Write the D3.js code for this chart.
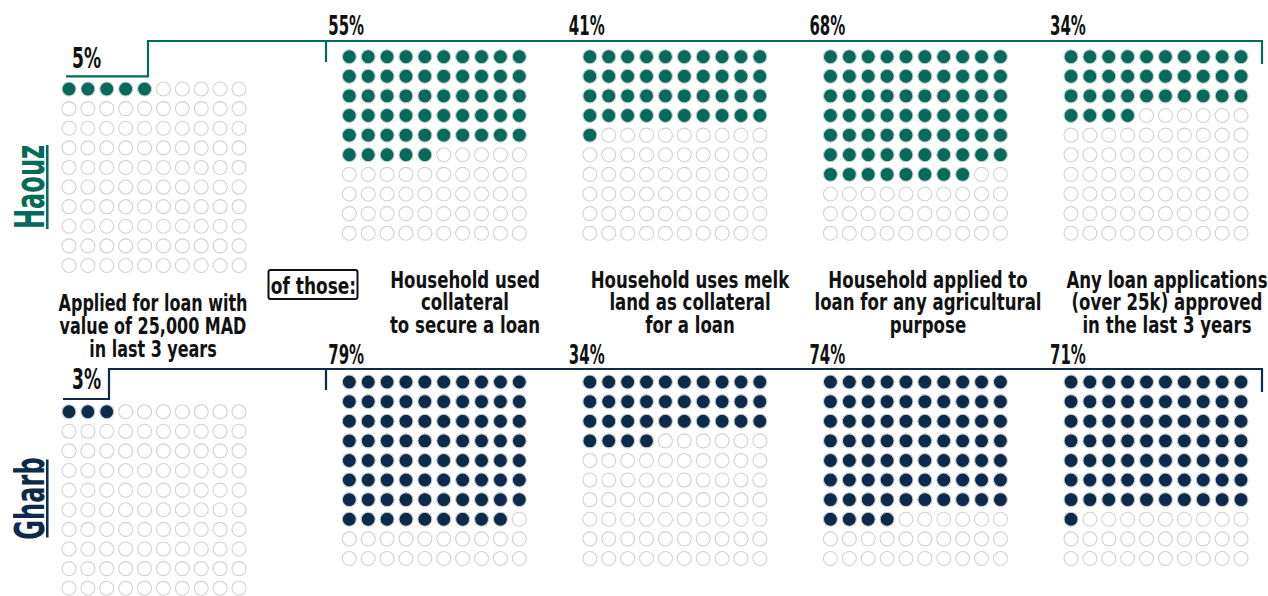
<!DOCTYPE html>
<html>
<head>
<meta charset="utf-8">
<script src="https://cdn.jsdelivr.net/npm/d3@7"></script>
<style>
  html, body { margin: 0; padding: 0; background: #fff; }
  svg { display: block; }
  text { font-family: "DejaVu Sans Condensed", "DejaVu Sans", sans-serif; font-weight: bold; fill: #111; }
</style>
</head>
<body>
<svg id="chart" width="1268" height="596"></svg>
<script>
// Regions surveyed
const regions = ["Haouz", "Gharb"];
const regionColors = ["#046a5a", "#0d2a4a"];

// Share of households that applied for a loan of 25,000 MAD or more (%)
const appliedShare = [5, 3];
const appliedLabel = ["Applied for loan with", "value of 25,000 MAD", "in last 3 years"];

// Among those who applied
const categories = [
  ["Household used", "collateral", "to secure a loan"],
  ["Household uses melk", "land as collateral", "for a loan"],
  ["Household applied to", "loan for any agricultural", "purpose"],
  ["Any loan applications", "(over 25k) approved", "in the last 3 years"]
];
const haouzValues = [55, 41, 68, 34];
const gharbValues = [79, 34, 74, 71];
const seriesValues = [haouzValues, gharbValues];

const svg = d3.select("#chart");

// Layout
const R = 7;
const colX = d3.scaleLinear().domain([0, 9]).range([0, 170]);
const rowY = d3.scaleLinear().domain([0, 9]).range([0, 176.5]);
const panelX = d3.scaleLinear().domain([0, 3]).range([349.3, 1071]);
const labelCenterX = [465, 690, 928, 1167];

const regionLayout = [
  { lineY: 41, stepY: 76.3, stepX: 148, startX: 66, smallTop: 89, smallPct: 68, panelTop: 56.7, pct: 35, labelY: 187, lblHalf: 42 },
  { lineY: 369, stepY: 399, stepX: 109, startX: 63, smallTop: 411.7, smallPct: 389, panelTop: 382, pct: 364, labelY: 498.5, lblHalf: 39 }
];

// Condensed bold text: the group carries a horizontal squeeze
function squeezedText(parent, x, y, sx, size, anchor) {
  const g = parent.append("g").attr("transform", `translate(${x},${y}) scale(${sx},1)`);
  return g.append("text")
    .attr("text-anchor", anchor || "start")
    .attr("font-size", size);
}

function waffle(g, value, color) {
  const cells = d3.range(100).map(i => ({ i, r: Math.floor(i / 10), c: i % 10, on: i < value }));
  g.selectAll("circle")
    .data(cells)
    .join("circle")
    .attr("cx", d => colX(d.c))
    .attr("cy", d => rowY(d.r))
    .attr("r", R)
    .attr("fill", d => d.on ? color : "#fff")
    .attr("stroke", d => d.on ? "#c9cfcd" : "#d2d2d2")
    .attr("stroke-width", 1.1);
}

const pctFmt = v => v + "%";

regions.forEach((name, ri) => {
  const L = regionLayout[ri];
  const color = regionColors[ri];

  // Bracket linking the base question to the follow-up panels
  const p = d3.path();
  p.moveTo(L.startX, L.stepY);
  p.lineTo(L.stepX, L.stepY);
  p.lineTo(L.stepX, L.lineY);
  p.lineTo(1262, L.lineY);
  p.lineTo(1262, L.lineY + 23);
  p.moveTo(326, L.lineY);
  p.lineTo(326, L.lineY + 21);
  svg.append("path")
    .attr("d", p.toString())
    .attr("fill", "none")
    .attr("stroke", color)
    .attr("stroke-width", 2.2);

  // Base waffle
  const gSmall = svg.append("g").attr("transform", `translate(69,${L.smallTop})`);
  waffle(gSmall, appliedShare[ri], color);
  squeezedText(svg, 72, L.smallPct, 0.68, 28).text(pctFmt(appliedShare[ri]));

  // Follow-up waffles
  seriesValues[ri].forEach((v, ci) => {
    const g = svg.append("g").attr("transform", `translate(${panelX(ci)},${L.panelTop})`);
    waffle(g, v, color);
    squeezedText(svg, panelX(ci) - 21, L.pct, 0.64, 26).text(pctFmt(v));
  });

  // Region name, rotated with an underline
  const rg = svg.append("g").attr("transform", `translate(43.5,${L.labelY}) rotate(-90) scale(0.67,1)`);
  rg.append("text")
    .attr("text-anchor", "middle")
    .attr("font-size", 40)
    .style("fill", color)
    .text(name);
  svg.append("line")
    .attr("x1", 47.3).attr("x2", 47.3)
    .attr("y1", L.labelY - L.lblHalf).attr("y2", L.labelY + L.lblHalf)
    .attr("stroke", color).attr("stroke-width", 2.5);
});

// Category labels between the two regions
const baseLines = [288, 310.5, 333];
categories.forEach((lines, ci) => {
  const t = squeezedText(svg, labelCenterX[ci], 0, 0.82, 22.5, "middle");
  lines.forEach((ln, li) => {
    t.append("tspan").attr("x", 0).attr("y", baseLines[li]).text(ln);
  });
});

const at = squeezedText(svg, 153, 0, 0.79, 22.5, "middle");
appliedLabel.forEach((ln, li) => {
  at.append("tspan").attr("x", 0).attr("y", [311, 334, 357][li]).text(ln);
});

// "of those:" tag
svg.append("rect")
  .attr("x", 268.5).attr("y", 270).attr("width", 89).attr("height", 29)
  .attr("rx", 2)
  .attr("fill", "none").attr("stroke", "#111").attr("stroke-width", 2);
squeezedText(svg, 313.5, 294, 0.84, 22.5, "middle").text("of those:");
</script>
</body>
</html>
